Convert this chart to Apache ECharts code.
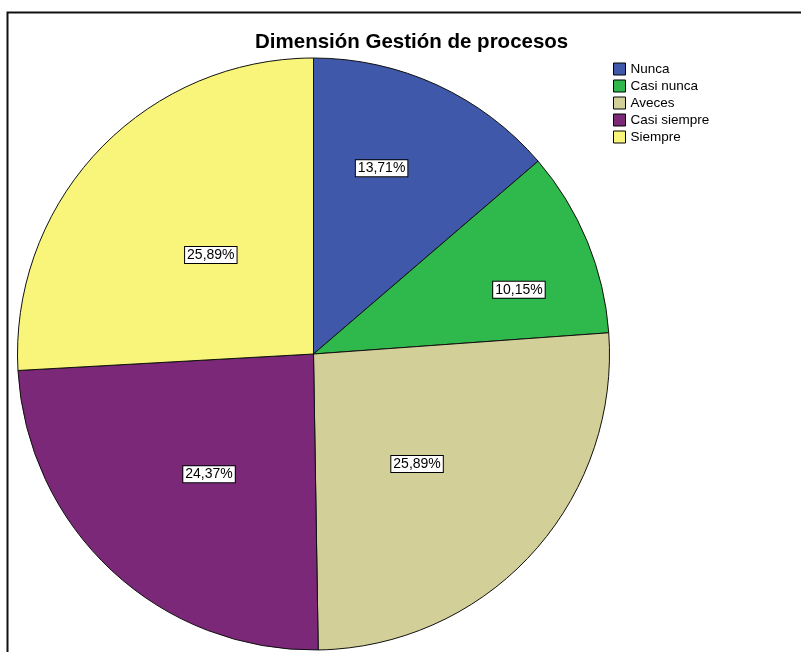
<!DOCTYPE html>
<html>
<head>
<meta charset="utf-8">
<title>Dimensión Gestión de procesos</title>
<script src="https://cdn.jsdelivr.net/npm/echarts@6/dist/echarts.min.js"></script>
<style>
    html, body { margin: 0; padding: 0; background: #fff; }
    #chart { width: 801px; height: 652px; }
</style>
</head>
<body>
<div id="chart"></div>
<script>
// datos del gráfico (porcentajes)
var categorias = ['Nunca', 'Casi nunca', 'Aveces', 'Casi siempre', 'Siempre'];
var porcentajes = [13.71, 10.15, 25.89, 24.37, 25.89];
var colores = ['#3f58a9', '#2fb84b', '#d3cf98', '#7b2878', '#f8f57a'];

// colocación de las etiquetas: fracción del radio y giro (grados) respecto al ángulo medio
var etiquetaFrac = [0.658, 0.717, 0.50, 0.528, 0.472];
var etiquetaGiro = [-4.6, 5.1, 4.3, -2, 0.6];

var radio = 296;
var total = porcentajes.reduce(function (a, b) { return a + b; }, 0);

// la etiqueta 'inside' queda en r/2 sobre el ángulo medio; se desplaza desde ahí
var acumulado = 0;
var datos = categorias.map(function (nombre, i) {
    var v = porcentajes[i];
    var medio = (acumulado + v / 2) / total * Math.PI * 2;
    acumulado += v;
    var ang = medio + etiquetaGiro[i] * Math.PI / 180;
    var r = etiquetaFrac[i] * radio;
    var dx = Math.sin(ang) * r - Math.sin(medio) * radio / 2;
    var dy = -Math.cos(ang) * r + Math.cos(medio) * radio / 2;
    return {
        name: nombre,
        value: v,
        itemStyle: { color: colores[i] },
        label: { offset: [dx, dy] }
    };
});

var chart = echarts.init(document.getElementById('chart'));

var option = {
    animation: false,
    backgroundColor: '#fff',
    title: {
        text: 'Dimensión Gestión de procesos',
        left: 255,
        top: 32,
        padding: 0,
        textStyle: {
            fontFamily: 'Liberation Sans',
            fontSize: 20.5,
            fontWeight: 'bold',
            color: '#000'
        }
    },
    legend: {
        orient: 'vertical',
        left: 613,
        top: 62,
        padding: 0,
        itemWidth: 12,
        itemHeight: 12,
        itemGap: 3,
        icon: 'rect',
        selectedMode: false,
        data: categorias,
        itemStyle: { borderColor: '#000', borderWidth: 1 },
        textStyle: {
            fontFamily: 'Liberation Sans',
            fontSize: 13.5,
            color: '#000'
        }
    },
    // marco exterior
    graphic: [{
        type: 'rect',
        shape: { x: 7.5, y: 12.5, width: 900, height: 900 },
        style: { fill: 'none', stroke: '#111', lineWidth: 2 },
        silent: true
    }],
    series: [{
        name: 'Gestión de procesos',
        type: 'pie',
        center: [313.5, 354],
        radius: [0, radio],
        startAngle: 90,
        clockwise: true,
        avoidLabelOverlap: false,
        emphasis: { disabled: true },
        itemStyle: { borderColor: '#111', borderWidth: 1 },
        label: {
            show: true,
            position: 'inside',
            formatter: function (p) {
                return p.value.toFixed(2).replace('.', ',') + '%';
            },
            fontFamily: 'Liberation Sans',
            fontSize: 14,
            color: '#000',
            backgroundColor: '#fff',
            borderColor: '#000',
            borderWidth: 1,
            padding: [1, 2]
        },
        labelLine: { show: false },
        data: datos
    }]
};

chart.setOption(option);
</script>
</body>
</html>
